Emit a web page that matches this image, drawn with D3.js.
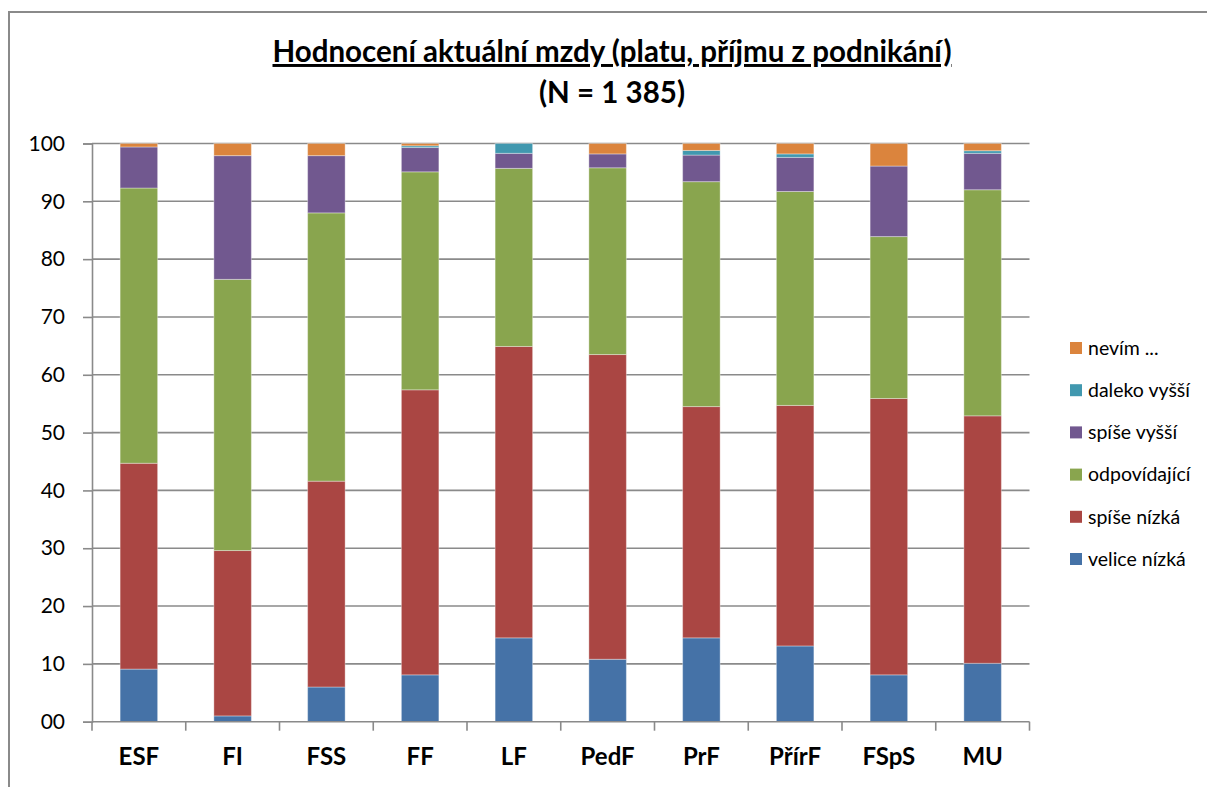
<!DOCTYPE html>
<html lang="cs">
<head>
<meta charset="UTF-8">
<title>Hodnocení aktuální mzdy</title>
<script src="https://cdnjs.cloudflare.com/ajax/libs/d3/7.8.5/d3.min.js"></script>
<style>
  body { margin: 0; background: #fff; }
  svg { display: block; font-family: Lato, "Open Sans", sans-serif; }
</style>
</head>
<body>
<svg id="chart" width="1207" height="787"></svg>
<script>
// faculties
const categories = ["ESF", "FI", "FSS", "FF", "LF", "PedF", "PrF", "PřírF", "FSpS", "MU"];

// series, bottom to top (percent)
const seriesNames = ["velice nízká", "spíše nízká", "odpovídající", "spíše vyšší", "daleko vyšší", "nevím ..."];
const veliceNizka  = [9.1, 1.0, 6.0, 8.1, 14.5, 10.8, 14.5, 13.1, 8.1, 10.1];
const spiseNizka   = [35.6, 28.6, 35.6, 49.3, 50.4, 52.7, 40.0, 41.6, 47.8, 42.8];
const odpovidajici = [47.6, 46.9, 46.4, 37.7, 30.8, 32.3, 38.9, 37.0, 28.0, 39.1];
const spiseVyssi   = [7.1, 21.4, 9.9, 4.2, 2.6, 2.4, 4.6, 5.9, 12.2, 6.3];
const dalekoVyssi  = [0, 0, 0, 0.3, 1.7, 0, 0.8, 0.6, 0, 0.45];
const nevim        = [0.6, 2.1, 2.1, 0.4, 0, 1.8, 1.2, 1.8, 3.9, 1.25];

const yTicks = [0, 10, 20, 30, 40, 50, 60, 70, 80, 90, 100];
const colors = ["#4572A7", "#AA4643", "#89A54E", "#71588F", "#4198AF", "#DB843D"];

const seriesValues = [veliceNizka, spiseNizka, odpovidajici, spiseVyssi, dalekoVyssi, nevim];
const rows = categories.map((c, i) => {
    const r = { cat: c };
    seriesNames.forEach((s, j) => r[s] = seriesValues[j][i]);
    return r;
});

const svg = d3.select("#chart");
const margin = { left: 92, right: 178, top: 143.5, bottom: 65 };
const W = 1207, H = 787;
const plotRight = 1029.5;

// outer frame
svg.append("rect")
    .attr("x", 9).attr("y", 12)
    .attr("width", W + 20).attr("height", H + 20)
    .attr("fill", "none").attr("stroke", "#8a8a8a").attr("stroke-width", 2);

// title
svg.append("text")
    .attr("x", 612).attr("y", 62)
    .attr("text-anchor", "middle")
    .attr("font-size", 29.5).attr("font-weight", "bold")
    .attr("text-decoration", "underline")
    .attr("fill", "#000")
    .text("Hodnocení aktuální mzdy (platu, příjmu z podnikání)");
svg.append("text")
    .attr("x", 612).attr("y", 103)
    .attr("text-anchor", "middle")
    .attr("font-size", 29.5).attr("font-weight", "bold")
    .attr("fill", "#000")
    .text("(N = 1 385)");

const x = d3.scaleBand()
    .domain(categories)
    .range([margin.left, plotRight])
    .paddingInner(0.6).paddingOuter(0.3);

const y = d3.scaleLinear()
    .domain([0, 100])
    .range([721.7, margin.top]);

// gridlines
svg.append("g")
    .selectAll("line")
    .data(yTicks.filter(d => d > 0))
    .enter().append("line")
    .attr("x1", margin.left).attr("x2", plotRight)
    .attr("y1", d => y(d)).attr("y2", d => y(d))
    .attr("stroke", "#8a8a8a").attr("stroke-width", 1.6);

// stacked bars
const stack = d3.stack().keys(seriesNames);
const layers = stack(rows);

svg.append("g")
    .selectAll("g")
    .data(layers)
    .enter().append("g")
    .attr("fill", (d, i) => colors[i])
    .selectAll("rect")
    .data(d => d)
    .enter().append("rect")
    .attr("x", d => x(d.data.cat))
    .attr("width", x.bandwidth())
    .attr("y", d => y(d[1]))
    .attr("height", d => Math.max(0, y(d[0]) - y(d[1])))
    .attr("stroke", "#ffffff").attr("stroke-opacity", 0.35).attr("stroke-width", 1);

// y axis
const yAxis = d3.axisLeft(y)
    .tickValues(yTicks)
    .tickSize(9)
    .tickPadding(18)
    .tickFormat(d => d === 0 ? "00" : d);

const ya = svg.append("g")
    .attr("transform", `translate(${margin.left},0)`)
    .call(yAxis);
ya.select(".domain").attr("stroke", "#8a8a8a").attr("stroke-width", 1.6);
ya.selectAll(".tick line").attr("stroke", "#8a8a8a").attr("stroke-width", 1.6);
ya.selectAll(".tick text")
    .attr("font-family", "Lato, 'Open Sans', sans-serif")
    .attr("font-size", 21).attr("fill", "#000");

// x axis
const xAxis = d3.axisBottom(x).tickSize(0).tickPadding(26);
const xa = svg.append("g")
    .attr("transform", `translate(0,${y(0)})`)
    .call(xAxis);
xa.select(".domain").remove();
xa.append("line")
    .attr("x1", margin.left).attr("x2", plotRight)
    .attr("stroke", "#8a8a8a").attr("stroke-width", 1.6);
const bounds = d3.range(categories.length + 1).map(i => margin.left + i * (plotRight - margin.left) / categories.length);
xa.selectAll(".sep")
    .data(bounds)
    .enter().append("line")
    .attr("class", "sep")
    .attr("x1", d => d).attr("x2", d => d)
    .attr("y1", 0).attr("y2", 9)
    .attr("stroke", "#8a8a8a").attr("stroke-width", 1.6);
xa.selectAll(".tick text")
    .attr("font-family", "Lato, 'Open Sans', sans-serif")
    .attr("font-size", 24).attr("font-weight", "bold").attr("fill", "#000");

// legend, top to bottom reversed order
const legendItems = seriesNames.map((s, i) => ({ name: s, color: colors[i] })).reverse();
const legend = svg.append("g").attr("transform", "translate(1070,348)");
const li = legend.selectAll("g")
    .data(legendItems)
    .enter().append("g")
    .attr("transform", (d, i) => `translate(0,${i * 42.2})`);
li.append("rect")
    .attr("x", 0).attr("y", -6)
    .attr("width", 12).attr("height", 12)
    .attr("fill", d => d.color);
li.append("text")
    .attr("x", 18).attr("y", 0)
    .attr("dy", "0.35em")
    .attr("font-size", 19.5).attr("fill", "#000")
    .text(d => d.name);
</script>
</body>
</html>
